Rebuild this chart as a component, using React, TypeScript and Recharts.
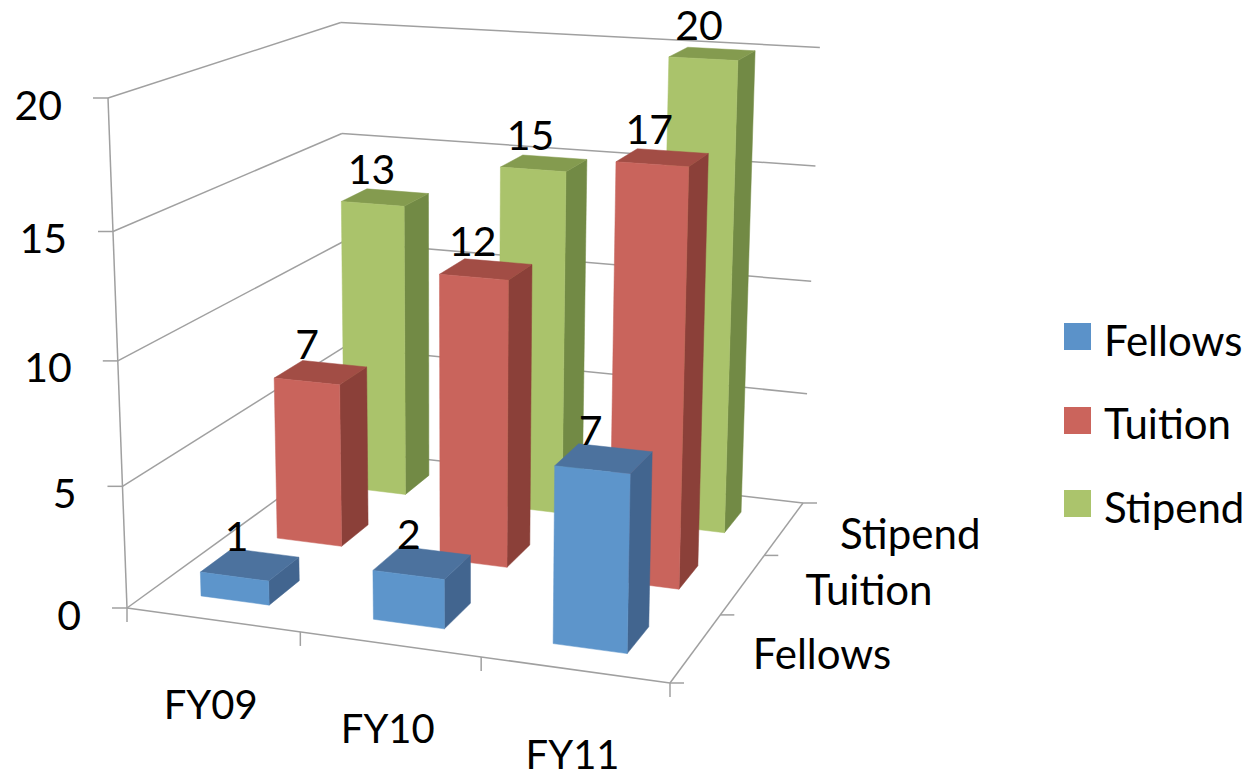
import { Bar, BarChart, Customized, Legend, XAxis, YAxis } from "recharts"

const categories = ["FY09", "FY10", "FY11"]
const seriesNames = ["Fellows", "Tuition", "Stipend"]
const fellows = [1, 2, 7]
const tuition = [7, 12, 17]
const stipend = [13, 15, 20]
const valueTicks = [0, 5, 10, 15, 20]

const data = categories.map((name, i) => ({
  name,
  Fellows: fellows[i],
  Tuition: tuition[i],
  Stipend: stipend[i],
}))

const legendColors: Record<string, string> = { Fellows: "#5B92C9", Tuition: "#CB645C", Stipend: "#ABC46C" }
const faces = [
  { front: "#5D95CB", top: "#4C729E", side: "#42658F" },
  { front: "#C9645C", top: "#A24D45", side: "#8B4039" },
  { front: "#AAC36B", top: "#849B4F", side: "#728A45" },
]

const FONT = "Lato, sans-serif"
const GRID = "#A0A0A0"
const WIDTH = 1252
const HEIGHT = 772
const PLOT = { left: 127, right: 670, top: 98, bottom: 608 }
const PLOT_H = PLOT.bottom - PLOT.top - 1

// floor corners on screen: front-left, front-right, back-right, back-left
const [x0, y0, x1, y1, x2, y2, x3, y3] = [127, 608, 670, 683, 803, 503, 345, 450]
const dx1 = x1 - x2
const dx2 = x3 - x2
const dy1 = y1 - y2
const dy2 = y3 - y2
const sx = x0 - x1 + x2 - x3
const sy = y0 - y1 + y2 - y3
const det = dx1 * dy2 - dx2 * dy1
const g = (sx * dy2 - dx2 * sy) / det
const h = (dx1 * sy - sx * dy1) / det
const a = x1 - x0 + g * x1
const b = x3 - x0 + h * x3
const d = y1 - y0 + g * y1
const e = y3 - y0 + h * y3
// height of the value axis, front-left top sits at (108, 98)
const r = -0.06
const p = 108 * (1 + r) - x0
const q = 98 * (1 + r) - y0

// u, v in category cells (0-3), t is the fraction of the value axis (0-1)
function project(u: number, v: number, t = 0) {
  const U = u / 3
  const V = v / 3
  const den = g * U + h * V + 1 + r * t
  return {
    x: (a * U + b * V + x0 + (p - 4.5 * U) * t) / den,
    y: (d * U + e * V + y0 + (q - 7 * U) * t) / den,
  }
}

const poly = (pts: { x: number; y: number }[]) => pts.map((pt) => `${pt.x},${pt.y}`).join(" ")

function makePrism(depth: number) {
  return function Prism(props: any) {
    const { index, height, value } = props
    const t = height / PLOT_H
    const u0 = index + 0.288
    const u1 = index + 0.688
    const v0 = depth + 0.3
    const v1 = depth + 0.7
    const c = faces[depth]
    const label = project(index + 0.5, depth + 0.5, t)
    return (
      <g>
        <polygon
          points={poly([project(u1, v0), project(u1, v1), project(u1, v1, t), project(u1, v0, t)])}
          fill={c.side}
          stroke={c.side}
          strokeWidth={0.5}
        />
        <polygon
          points={poly([project(u0, v0, t), project(u1, v0, t), project(u1, v1, t), project(u0, v1, t)])}
          fill={c.top}
          stroke={c.top}
          strokeWidth={0.5}
        />
        <polygon
          points={poly([project(u0, v0), project(u1, v0), project(u1, v0, t), project(u0, v0, t)])}
          fill={c.front}
          stroke={c.front}
          strokeWidth={0.5}
        />
        <text
          x={label.x - 15.5}
          y={label.y - 29}
          textAnchor="middle"
          dominantBaseline="central"
          fontFamily={FONT}
          fontSize={41}
          fill="#000"
        >
          {value}
        </text>
      </g>
    )
  }
}

function line(from: { x: number; y: number }, to: { x: number; y: number }, key: string) {
  return <line key={key} x1={from.x} y1={from.y} x2={to.x} y2={to.y} stroke={GRID} strokeWidth={1.5} />
}

function Walls() {
  const parts: any[] = []
  valueTicks.forEach((tick) => {
    const t = tick / 20
    const front = project(0, 0, t)
    const back = project(0, 3, t)
    const right = project(3, 3, t)
    parts.push(line({ x: front.x - 15, y: front.y }, front, `tick${tick}`))
    parts.push(line(front, back, `left${tick}`))
    parts.push(line(back, right, `back${tick}`))
  })
  parts.push(line(project(0, 0), project(0, 0, 1), "axis"))
  parts.push(line(project(0, 0), project(3, 0), "front"))
  parts.push(line(project(3, 0), project(3, 3), "side"))
  ;[0, 1, 2, 3].forEach((i) => {
    const pt = project(i, 0)
    parts.push(line(pt, { x: pt.x, y: pt.y + 14 }, `xt${i}`))
    const side = project(3, i)
    parts.push(line(side, { x: side.x + 14, y: side.y }, `zt${i}`))
  })
  return (
    <g>
      {parts}
      {seriesNames.map((name, i) => {
        const pt = project(3, i + 0.5)
        return (
          <text
            key={name}
            x={pt.x + 126}
            y={pt.y + 5}
            textAnchor="middle"
            dominantBaseline="central"
            fontFamily={FONT}
            fontSize={42}
            fill="#000"
          >
            {name}
          </text>
        )
      })}
    </g>
  )
}

function ValueTick({ payload }: any) {
  const pt = project(0, 0, payload.value / 20)
  return (
    <text
      x={pt.x - 46}
      y={pt.y + 6}
      textAnchor="end"
      dominantBaseline="central"
      fontFamily={FONT}
      fontSize={41}
      fill="#000"
    >
      {payload.value}
    </text>
  )
}

function CategoryTick({ payload, index }: any) {
  const pt = project(index + 0.5, 0)
  return (
    <text
      x={pt.x - 2}
      y={pt.y + 84}
      textAnchor="middle"
      dominantBaseline="central"
      fontFamily={FONT}
      fontSize={40}
      fill="#000"
    >
      {payload.value}
    </text>
  )
}

function LegendList({ payload }: any) {
  const items = seriesNames.map((name) => (payload || []).find((it: any) => it.value === name) || { value: name })
  return (
    <div style={{ fontFamily: FONT, fontSize: 42, color: "#000" }}>
      {items.map((it: any) => (
        <div key={it.value} style={{ height: 83.5, display: "flex", alignItems: "center" }}>
          <span style={{ width: 27, height: 27, marginRight: 13, background: legendColors[it.value] }} />
          <span style={{ position: "relative", top: 3 }}>{it.value}</span>
        </div>
      ))}
    </div>
  )
}

export default function App() {
  return (
    <div style={{ position: "absolute", left: 0, top: 0, width: WIDTH, height: HEIGHT }}>
      <BarChart
        width={WIDTH}
        height={HEIGHT}
        data={data}
        margin={{
          left: PLOT.left - 1,
          right: WIDTH - PLOT.right,
          top: PLOT.top,
          bottom: HEIGHT - PLOT.bottom - 1,
        }}
      >
        <XAxis dataKey="name" height={1} axisLine={false} tickLine={false} tick={<CategoryTick />} interval={0} />
        <YAxis
          domain={[0, 20]}
          ticks={valueTicks}
          width={1}
          axisLine={false}
          tickLine={false}
          tick={<ValueTick />}
        />
        <Customized component={<Walls />} />
        <Legend
          layout="vertical"
          align="center"
          verticalAlign="middle"
          wrapperStyle={{ left: 1064, top: 295, width: 188, height: 252 }}
          content={<LegendList />}
        />
        <Bar dataKey="Stipend" shape={makePrism(2)} fill={legendColors.Stipend} isAnimationActive={false} />
        <Bar dataKey="Tuition" shape={makePrism(1)} fill={legendColors.Tuition} isAnimationActive={false} />
        <Bar dataKey="Fellows" shape={makePrism(0)} fill={legendColors.Fellows} isAnimationActive={false} />
      </BarChart>
    </div>
  )
}
